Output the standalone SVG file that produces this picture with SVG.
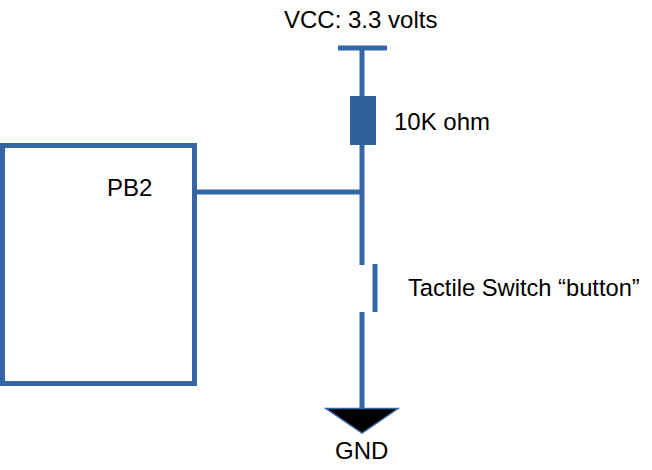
<svg xmlns="http://www.w3.org/2000/svg" width="652" height="470" viewBox="0 0 652 470">
<style>
.w{stroke:#3465a4;stroke-width:5;fill:none}
.t{font-family:"Liberation Sans",Arial,sans-serif;font-size:24px;fill:#000}
</style>
<rect width="652" height="470" fill="#fff"/>
<g id="connectors">
<path class="w" d="M338 48H387"/>
<path class="w" d="M362 48V97"/>
<path class="w" d="M362 145V265"/>
<path class="w" d="M195 192H362"/>
<path class="w" d="M362 312V409"/>
</g>
<g id="mcu"><rect class="w" x="2.500" y="145.500" width="192" height="238"/><text class="t" x="107" y="196">PB2</text></g>
<g id="vcc"><text class="t" x="284" y="28">VCC: 3.3 volts</text></g>
<g id="resistor"><rect x="350" y="96" width="26" height="49" fill="#2f629c"/><text class="t" x="394" y="130">10K ohm</text></g>
<g id="switch"><path class="w" d="M375 264V312"/><text class="t" x="408" y="296" style="font-size:23.700px">Tactile Switch “button”</text></g>
<g id="gnd"><path d="M326 408.500H398L362 433Z" fill="#000" stroke="#3465a4" stroke-width="1.500"/><text class="t" x="335" y="459">GND</text></g>
</svg>
